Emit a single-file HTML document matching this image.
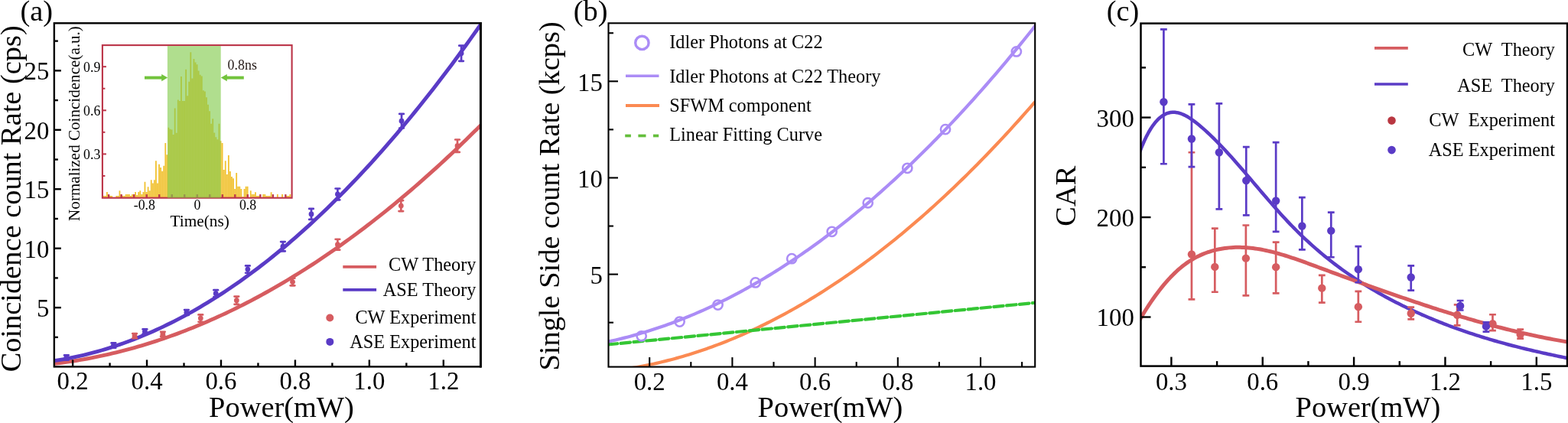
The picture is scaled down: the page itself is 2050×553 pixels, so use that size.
<!DOCTYPE html>
<html><head><meta charset="utf-8"><title>Figure</title>
<style>html,body{margin:0;padding:0;background:#fff;}svg{display:block;}
text{font-family:"Liberation Serif", "Times New Roman", serif;}</style></head>
<body><svg width="2050" height="553" viewBox="0 0 2050 553">
<rect width="2050" height="553" fill="#fff"/>
<defs>
<clipPath id="clipA"><rect x="70.85" y="30.3" width="557.65" height="449.1"/></clipPath>
</defs>
<g clip-path="url(#clipA)">
<path d="M66.02,475.94 L70.78,475.41 L75.55,474.84 L80.31,474.23 L85.08,473.59 L89.85,472.92 L94.61,472.2 L99.38,471.46 L104.14,470.67 L108.91,469.85 L113.67,468.99 L118.44,468.1 L123.2,467.17 L127.97,466.2 L132.74,465.2 L137.5,464.17 L142.27,463.09 L147.03,461.98 L151.8,460.84 L156.56,459.65 L161.33,458.43 L166.09,457.18 L170.86,455.89 L175.63,454.56 L180.39,453.2 L185.16,451.8 L189.92,450.37 L194.69,448.9 L199.45,447.39 L204.22,445.85 L208.98,444.27 L213.75,442.65 L218.52,441 L223.28,439.31 L228.05,437.59 L232.81,435.83 L237.58,434.03 L242.34,432.2 L247.11,430.33 L251.87,428.43 L256.64,426.49 L261.41,424.51 L266.17,422.5 L270.94,420.45 L275.7,418.36 L280.47,416.24 L285.23,414.09 L290,411.89 L294.76,409.66 L299.53,407.4 L304.29,405.1 L309.06,402.76 L313.83,400.39 L318.59,397.98 L323.36,395.53 L328.12,393.05 L332.89,390.53 L337.65,387.98 L342.42,385.39 L347.18,382.76 L351.95,380.1 L356.72,377.4 L361.48,374.66 L366.25,371.89 L371.01,369.09 L375.78,366.24 L380.54,363.36 L385.31,360.45 L390.07,357.5 L394.84,354.51 L399.61,351.49 L404.37,348.43 L409.14,345.33 L413.9,342.2 L418.67,339.03 L423.43,335.83 L428.2,332.59 L432.96,329.31 L437.73,326 L442.5,322.65 L447.26,319.26 L452.03,315.84 L456.79,312.39 L461.56,308.89 L466.32,305.36 L471.09,301.8 L475.85,298.2 L480.62,294.56 L485.39,290.89 L490.15,287.18 L494.92,283.43 L499.68,279.65 L504.45,275.83 L509.21,271.98 L513.98,268.09 L518.74,264.16 L523.51,260.2 L528.28,256.2 L533.04,252.16 L537.81,248.09 L542.57,243.99 L547.34,239.84 L552.1,235.66 L556.87,231.45 L561.63,227.2 L566.4,222.91 L571.17,218.59 L575.93,214.23 L580.7,209.83 L585.46,205.4 L590.23,200.93 L594.99,196.43 L599.76,191.89 L604.52,187.31 L609.29,182.7 L614.05,178.05 L618.82,173.37 L623.59,168.65 L628.35,163.89 L633.12,159.1" fill="none" stroke="#d65c60" stroke-width="4.9" stroke-linejoin="round" />
<path d="M66.02,472.36 L70.78,471.67 L75.55,470.93 L80.31,470.14 L85.08,469.3 L89.85,468.41 L94.61,467.46 L99.38,466.46 L104.14,465.41 L108.91,464.31 L113.67,463.15 L118.44,461.95 L123.2,460.69 L127.97,459.38 L132.74,458.01 L137.5,456.6 L142.27,455.13 L147.03,453.61 L151.8,452.04 L156.56,450.42 L161.33,448.74 L166.09,447.01 L170.86,445.24 L175.63,443.4 L180.39,441.52 L185.16,439.59 L189.92,437.6 L194.69,435.56 L199.45,433.47 L204.22,431.32 L208.98,429.13 L213.75,426.88 L218.52,424.58 L223.28,422.23 L228.05,419.83 L232.81,417.37 L237.58,414.86 L242.34,412.3 L247.11,409.69 L251.87,407.03 L256.64,404.31 L261.41,401.55 L266.17,398.73 L270.94,395.85 L275.7,392.93 L280.47,389.96 L285.23,386.93 L290,383.85 L294.76,380.72 L299.53,377.53 L304.29,374.3 L309.06,371.01 L313.83,367.67 L318.59,364.28 L323.36,360.83 L328.12,357.34 L332.89,353.79 L337.65,350.19 L342.42,346.54 L347.18,342.83 L351.95,339.07 L356.72,335.27 L361.48,331.41 L366.25,327.49 L371.01,323.53 L375.78,319.51 L380.54,315.45 L385.31,311.32 L390.07,307.15 L394.84,302.93 L399.61,298.65 L404.37,294.32 L409.14,289.94 L413.9,285.51 L418.67,281.03 L423.43,276.49 L428.2,271.9 L432.96,267.26 L437.73,262.57 L442.5,257.82 L447.26,253.03 L452.03,248.18 L456.79,243.28 L461.56,238.32 L466.32,233.32 L471.09,228.26 L475.85,223.15 L480.62,217.99 L485.39,212.78 L490.15,207.51 L494.92,202.2 L499.68,196.83 L504.45,191.41 L509.21,185.93 L513.98,180.41 L518.74,174.83 L523.51,169.2 L528.28,163.52 L533.04,157.79 L537.81,152 L542.57,146.16 L547.34,140.28 L552.1,134.33 L556.87,128.34 L561.63,122.3 L566.4,116.2 L571.17,110.05 L575.93,103.85 L580.7,97.59 L585.46,91.29 L590.23,84.93 L594.99,78.52 L599.76,72.06 L604.52,65.55 L609.29,58.98 L614.05,52.36 L618.82,45.69 L623.59,38.97 L628.35,32.2 L633.12,25.37" fill="none" stroke="#5a3bc6" stroke-width="4.9" stroke-linejoin="round" />
</g>
<line x1="176.04" y1="436.07" x2="176.04" y2="442.27" stroke="#d65c60" stroke-width="2.7" />
<line x1="173.24" y1="436.07" x2="178.84" y2="436.07" stroke="#d65c60" stroke-width="2.7" stroke-linecap="round"/>
<line x1="173.24" y1="442.27" x2="178.84" y2="442.27" stroke="#d65c60" stroke-width="2.7" stroke-linecap="round"/>
<circle cx="176.04" cy="439.17" r="3.4" fill="#d65c60"/>
<line x1="212.88" y1="433.75" x2="212.88" y2="439.64" stroke="#d65c60" stroke-width="2.7" />
<line x1="210.08" y1="433.75" x2="215.68" y2="433.75" stroke="#d65c60" stroke-width="2.7" stroke-linecap="round"/>
<line x1="210.08" y1="439.64" x2="215.68" y2="439.64" stroke="#d65c60" stroke-width="2.7" stroke-linecap="round"/>
<circle cx="212.88" cy="436.69" r="3.4" fill="#d65c60"/>
<line x1="262.32" y1="411.44" x2="262.32" y2="420.74" stroke="#d65c60" stroke-width="2.7" />
<line x1="259.52" y1="411.44" x2="265.12" y2="411.44" stroke="#d65c60" stroke-width="2.7" stroke-linecap="round"/>
<line x1="259.52" y1="420.74" x2="265.12" y2="420.74" stroke="#d65c60" stroke-width="2.7" stroke-linecap="round"/>
<circle cx="262.32" cy="416.09" r="3.4" fill="#d65c60"/>
<line x1="309.34" y1="387.59" x2="309.34" y2="397.81" stroke="#d65c60" stroke-width="2.7" />
<line x1="306.54" y1="387.59" x2="312.14" y2="387.59" stroke="#d65c60" stroke-width="2.7" stroke-linecap="round"/>
<line x1="306.54" y1="397.81" x2="312.14" y2="397.81" stroke="#d65c60" stroke-width="2.7" stroke-linecap="round"/>
<circle cx="309.34" cy="392.7" r="3.4" fill="#d65c60"/>
<line x1="382.53" y1="363.73" x2="382.53" y2="373.34" stroke="#d65c60" stroke-width="2.7" />
<line x1="379.73" y1="363.73" x2="385.33" y2="363.73" stroke="#d65c60" stroke-width="2.7" stroke-linecap="round"/>
<line x1="379.73" y1="373.34" x2="385.33" y2="373.34" stroke="#d65c60" stroke-width="2.7" stroke-linecap="round"/>
<circle cx="382.53" cy="368.54" r="3.4" fill="#d65c60"/>
<line x1="441.42" y1="312.77" x2="441.42" y2="326.71" stroke="#d65c60" stroke-width="2.7" />
<line x1="438.62" y1="312.77" x2="444.22" y2="312.77" stroke="#d65c60" stroke-width="2.7" stroke-linecap="round"/>
<line x1="438.62" y1="326.71" x2="444.22" y2="326.71" stroke="#d65c60" stroke-width="2.7" stroke-linecap="round"/>
<circle cx="441.42" cy="319.74" r="3.4" fill="#d65c60"/>
<line x1="524.3" y1="262.12" x2="524.3" y2="276.06" stroke="#d65c60" stroke-width="2.7" />
<line x1="521.5" y1="262.12" x2="527.1" y2="262.12" stroke="#d65c60" stroke-width="2.7" stroke-linecap="round"/>
<line x1="521.5" y1="276.06" x2="527.1" y2="276.06" stroke="#d65c60" stroke-width="2.7" stroke-linecap="round"/>
<circle cx="524.3" cy="269.09" r="3.4" fill="#d65c60"/>
<line x1="598.02" y1="182.5" x2="598.02" y2="198.92" stroke="#d65c60" stroke-width="2.7" />
<line x1="595.22" y1="182.5" x2="600.82" y2="182.5" stroke="#d65c60" stroke-width="2.7" stroke-linecap="round"/>
<line x1="595.22" y1="198.92" x2="600.82" y2="198.92" stroke="#d65c60" stroke-width="2.7" stroke-linecap="round"/>
<circle cx="598.02" cy="190.71" r="3.4" fill="#d65c60"/>
<line x1="86.86" y1="464.42" x2="86.86" y2="470.62" stroke="#5a3bc6" stroke-width="2.7" />
<line x1="84.06" y1="464.42" x2="89.66" y2="464.42" stroke="#5a3bc6" stroke-width="2.7" stroke-linecap="round"/>
<line x1="84.06" y1="470.62" x2="89.66" y2="470.62" stroke="#5a3bc6" stroke-width="2.7" stroke-linecap="round"/>
<circle cx="86.86" cy="467.52" r="3.4" fill="#5a3bc6"/>
<line x1="148.42" y1="448.47" x2="148.42" y2="454.66" stroke="#5a3bc6" stroke-width="2.7" />
<line x1="145.62" y1="448.47" x2="151.22" y2="448.47" stroke="#5a3bc6" stroke-width="2.7" stroke-linecap="round"/>
<line x1="145.62" y1="454.66" x2="151.22" y2="454.66" stroke="#5a3bc6" stroke-width="2.7" stroke-linecap="round"/>
<circle cx="148.42" cy="451.56" r="3.4" fill="#5a3bc6"/>
<line x1="189.42" y1="430.34" x2="189.42" y2="436.54" stroke="#5a3bc6" stroke-width="2.7" />
<line x1="186.62" y1="430.34" x2="192.22" y2="430.34" stroke="#5a3bc6" stroke-width="2.7" stroke-linecap="round"/>
<line x1="186.62" y1="436.54" x2="192.22" y2="436.54" stroke="#5a3bc6" stroke-width="2.7" stroke-linecap="round"/>
<circle cx="189.42" cy="433.44" r="3.4" fill="#5a3bc6"/>
<line x1="243.9" y1="405.09" x2="243.9" y2="411.91" stroke="#5a3bc6" stroke-width="2.7" />
<line x1="241.1" y1="405.09" x2="246.7" y2="405.09" stroke="#5a3bc6" stroke-width="2.7" stroke-linecap="round"/>
<line x1="241.1" y1="411.91" x2="246.7" y2="411.91" stroke="#5a3bc6" stroke-width="2.7" stroke-linecap="round"/>
<circle cx="243.9" cy="408.5" r="3.4" fill="#5a3bc6"/>
<line x1="282.19" y1="379.22" x2="282.19" y2="388.21" stroke="#5a3bc6" stroke-width="2.7" />
<line x1="279.39" y1="379.22" x2="284.99" y2="379.22" stroke="#5a3bc6" stroke-width="2.7" stroke-linecap="round"/>
<line x1="279.39" y1="388.21" x2="284.99" y2="388.21" stroke="#5a3bc6" stroke-width="2.7" stroke-linecap="round"/>
<circle cx="282.19" cy="383.72" r="3.4" fill="#5a3bc6"/>
<line x1="323.88" y1="347.47" x2="323.88" y2="356.76" stroke="#5a3bc6" stroke-width="2.7" />
<line x1="321.08" y1="347.47" x2="326.68" y2="347.47" stroke="#5a3bc6" stroke-width="2.7" stroke-linecap="round"/>
<line x1="321.08" y1="356.76" x2="326.68" y2="356.76" stroke="#5a3bc6" stroke-width="2.7" stroke-linecap="round"/>
<circle cx="323.88" cy="352.12" r="3.4" fill="#5a3bc6"/>
<line x1="369.92" y1="316.03" x2="369.92" y2="328.42" stroke="#5a3bc6" stroke-width="2.7" />
<line x1="367.12" y1="316.03" x2="372.72" y2="316.03" stroke="#5a3bc6" stroke-width="2.7" stroke-linecap="round"/>
<line x1="367.12" y1="328.42" x2="372.72" y2="328.42" stroke="#5a3bc6" stroke-width="2.7" stroke-linecap="round"/>
<circle cx="369.92" cy="322.22" r="3.4" fill="#5a3bc6"/>
<line x1="407" y1="272.96" x2="407" y2="286.9" stroke="#5a3bc6" stroke-width="2.7" />
<line x1="404.2" y1="272.96" x2="409.8" y2="272.96" stroke="#5a3bc6" stroke-width="2.7" stroke-linecap="round"/>
<line x1="404.2" y1="286.9" x2="409.8" y2="286.9" stroke="#5a3bc6" stroke-width="2.7" stroke-linecap="round"/>
<circle cx="407" cy="279.93" r="3.4" fill="#5a3bc6"/>
<line x1="441.42" y1="246.48" x2="441.42" y2="261.35" stroke="#5a3bc6" stroke-width="2.7" />
<line x1="438.62" y1="246.48" x2="444.22" y2="246.48" stroke="#5a3bc6" stroke-width="2.7" stroke-linecap="round"/>
<line x1="438.62" y1="261.35" x2="444.22" y2="261.35" stroke="#5a3bc6" stroke-width="2.7" stroke-linecap="round"/>
<circle cx="441.42" cy="253.91" r="3.4" fill="#5a3bc6"/>
<line x1="525.03" y1="148.89" x2="525.03" y2="167.48" stroke="#5a3bc6" stroke-width="2.7" />
<line x1="522.23" y1="148.89" x2="527.83" y2="148.89" stroke="#5a3bc6" stroke-width="2.7" stroke-linecap="round"/>
<line x1="522.23" y1="167.48" x2="527.83" y2="167.48" stroke="#5a3bc6" stroke-width="2.7" stroke-linecap="round"/>
<circle cx="525.03" cy="158.18" r="3.4" fill="#5a3bc6"/>
<line x1="603.07" y1="59.67" x2="603.07" y2="79.8" stroke="#5a3bc6" stroke-width="2.7" />
<line x1="600.27" y1="59.67" x2="605.87" y2="59.67" stroke="#5a3bc6" stroke-width="2.7" stroke-linecap="round"/>
<line x1="600.27" y1="79.8" x2="605.87" y2="79.8" stroke="#5a3bc6" stroke-width="2.7" stroke-linecap="round"/>
<circle cx="603.07" cy="69.73" r="3.4" fill="#5a3bc6"/>
<rect x="70.85" y="30.3" width="557.65" height="449.1" fill="none" stroke="#000" stroke-width="2.4" stroke-linejoin="miter"/>
<line x1="628.4" y1="29.1" x2="628.4" y2="480.6" stroke="#000" stroke-width="2.9" />
<line x1="70.85" y1="402.15" x2="79.85" y2="402.15" stroke="#000" stroke-width="2.4" />
<text x="64.4" y="413.95" font-size="32.8" text-anchor="end" fill="#000" >5</text>
<line x1="70.85" y1="324.7" x2="79.85" y2="324.7" stroke="#000" stroke-width="2.4" />
<text x="64.4" y="336.5" font-size="32.8" text-anchor="end" fill="#000" >10</text>
<line x1="70.85" y1="247.25" x2="79.85" y2="247.25" stroke="#000" stroke-width="2.4" />
<text x="64.4" y="259.05" font-size="32.8" text-anchor="end" fill="#000" >15</text>
<line x1="70.85" y1="169.8" x2="79.85" y2="169.8" stroke="#000" stroke-width="2.4" />
<text x="64.4" y="181.6" font-size="32.8" text-anchor="end" fill="#000" >20</text>
<line x1="70.85" y1="92.35" x2="79.85" y2="92.35" stroke="#000" stroke-width="2.4" />
<text x="64.4" y="104.15" font-size="32.8" text-anchor="end" fill="#000" >25</text>
<line x1="70.85" y1="440.88" x2="75.85" y2="440.88" stroke="#000" stroke-width="2.4" />
<line x1="70.85" y1="363.43" x2="75.85" y2="363.43" stroke="#000" stroke-width="2.4" />
<line x1="70.85" y1="285.98" x2="75.85" y2="285.98" stroke="#000" stroke-width="2.4" />
<line x1="70.85" y1="208.53" x2="75.85" y2="208.53" stroke="#000" stroke-width="2.4" />
<line x1="70.85" y1="131.08" x2="75.85" y2="131.08" stroke="#000" stroke-width="2.4" />
<line x1="70.85" y1="53.62" x2="75.85" y2="53.62" stroke="#000" stroke-width="2.4" />
<line x1="95.1" y1="479.4" x2="95.1" y2="470.4" stroke="#000" stroke-width="2.4" />
<text x="95.1" y="509.1" font-size="32.8" text-anchor="middle" fill="#000" >0.2</text>
<line x1="192.04" y1="479.4" x2="192.04" y2="470.4" stroke="#000" stroke-width="2.4" />
<text x="192.04" y="509.1" font-size="32.8" text-anchor="middle" fill="#000" >0.4</text>
<line x1="288.98" y1="479.4" x2="288.98" y2="470.4" stroke="#000" stroke-width="2.4" />
<text x="288.98" y="509.1" font-size="32.8" text-anchor="middle" fill="#000" >0.6</text>
<line x1="385.92" y1="479.4" x2="385.92" y2="470.4" stroke="#000" stroke-width="2.4" />
<text x="385.92" y="509.1" font-size="32.8" text-anchor="middle" fill="#000" >0.8</text>
<line x1="482.86" y1="479.4" x2="482.86" y2="470.4" stroke="#000" stroke-width="2.4" />
<text x="482.86" y="509.1" font-size="32.8" text-anchor="middle" fill="#000" >1.0</text>
<line x1="579.8" y1="479.4" x2="579.8" y2="470.4" stroke="#000" stroke-width="2.4" />
<text x="579.8" y="509.1" font-size="32.8" text-anchor="middle" fill="#000" >1.2</text>
<line x1="143.57" y1="479.4" x2="143.57" y2="474.4" stroke="#000" stroke-width="2.4" />
<line x1="240.51" y1="479.4" x2="240.51" y2="474.4" stroke="#000" stroke-width="2.4" />
<line x1="337.45" y1="479.4" x2="337.45" y2="474.4" stroke="#000" stroke-width="2.4" />
<line x1="434.39" y1="479.4" x2="434.39" y2="474.4" stroke="#000" stroke-width="2.4" />
<line x1="531.33" y1="479.4" x2="531.33" y2="474.4" stroke="#000" stroke-width="2.4" />
<text x="368" y="545" font-size="38.4" text-anchor="middle" fill="#000" >Power(mW)</text>
<text x="27" y="259.8" font-size="38.4" text-anchor="middle" fill="#000" transform="rotate(-90 27 259.8)">Coincidence count Rate (cps)</text>
<text x="47.8" y="27" font-size="38.4" text-anchor="middle" fill="#000" >(a)</text>
<line x1="448.3" y1="348.8" x2="492.1" y2="348.8" stroke="#d65c60" stroke-width="3.7" />
<line x1="448.3" y1="378.9" x2="492.1" y2="378.9" stroke="#5a3bc6" stroke-width="3.7" />
<circle cx="431.3" cy="415.5" r="5" fill="#d65c60"/>
<circle cx="431.3" cy="446.9" r="5" fill="#5a3bc6"/>
<text x="622.5" y="354.4" font-size="24.3" text-anchor="end" fill="#000" >CW Theory</text>
<text x="622.5" y="387.4" font-size="24.3" text-anchor="end" fill="#000" >ASE Theory</text>
<text x="622.5" y="423.3" font-size="24.3" text-anchor="end" fill="#000" >CW Experiment</text>
<text x="622.5" y="455.3" font-size="24.3" text-anchor="end" fill="#000" >ASE Experiment</text>
<path d="M134.9,258.7V256.03H136.71V258.7zM136.96,258.7V256.03H138.78V258.7zM139.03,258.7V251.08H140.84V258.7zM141.09,258.7V256.03H142.91V258.7zM143.16,258.7V256.03H144.97V258.7zM145.22,258.7V256.03H147.03V258.7zM151.41,258.7V256.03H153.23V258.7zM153.48,258.7V256.03H155.29V258.7zM155.54,258.7V249.17H157.35V258.7zM157.6,258.7V253.93H159.42V258.7zM159.67,258.7V256.03H161.48V258.7zM161.73,258.7V256.03H163.55V258.7zM163.8,258.7V253.93H165.61V258.7zM165.86,258.7V253.93H167.67V258.7zM167.92,258.7V253.93H169.74V258.7zM169.99,258.7V256.03H171.8V258.7zM172.05,258.7V253.93H173.87V258.7zM174.12,258.7V253.93H175.93V258.7zM176.18,258.7V251.08H177.99V258.7zM178.24,258.7V255.07H180.06V258.7zM180.31,258.7V251.08H182.12V258.7zM182.37,258.7V249.17H184.19V258.7zM184.44,258.7V253.93H186.25V258.7zM186.5,258.7V251.08H188.31V258.7zM188.56,258.7V237.75H190.38V258.7zM190.63,258.7V251.08H192.44V258.7zM192.69,258.7V244.22H194.51V258.7zM194.76,258.7V249.17H196.57V258.7zM196.82,258.7V235.28H198.63V258.7zM198.88,258.7V239.47H200.7V258.7zM200.95,258.7V235.28H202.76V258.7zM203.01,258.7V210.16H204.83V258.7zM205.08,258.7V239.47H206.89V258.7zM207.14,258.7V214.72H208.95V258.7zM209.2,258.7V219.1H211.02V258.7zM211.27,258.7V223.67H213.08V258.7zM213.33,258.7V216.82H215.15V258.7zM215.4,258.7V187.12H217.21V258.7zM217.46,258.7V202.35H219.27V258.7zM219.52,258.7V166.76H221.34V258.7zM221.59,258.7V168.85H223.4V258.7zM223.65,258.7V169.42H225.47V258.7zM225.72,258.7V176.09H227.53V258.7zM227.78,258.7V141.44H229.59V258.7zM229.84,258.7V173.8H231.66V258.7zM231.91,258.7V130.41H233.72V258.7zM233.97,258.7V132.12H235.79V258.7zM236.04,258.7V99.95H237.85V258.7zM238.1,258.7V132.12H239.91V258.7zM240.16,258.7V132.12H241.98V258.7zM242.23,258.7V90.82H244.04V258.7zM244.29,258.7V125.27H246.11V258.7zM246.36,258.7V106.8H248.17V258.7zM248.42,258.7V68.17H250.23V258.7zM250.48,258.7V102.43H252.3V258.7zM252.55,258.7V77.11H254.36V258.7zM254.61,258.7V81.49H256.43V258.7zM256.68,258.7V84.15H258.49V258.7zM258.74,258.7V92.53H260.55V258.7zM260.8,258.7V97.86H262.62V258.7zM262.87,258.7V99.38H264.68V258.7zM264.93,258.7V118.22H266.75V258.7zM267,258.7V119.56H268.81V258.7zM269.06,258.7V127.17H270.87V258.7zM271.12,258.7V136.69H272.94V258.7zM273.19,258.7V145.25H275V258.7zM275.25,258.7V161.81H277.07V258.7zM277.32,258.7V155.15H279.13V258.7zM279.38,258.7V173.42H281.19V258.7zM281.44,258.7V179.32H283.26V258.7zM283.51,258.7V182.37H285.32V258.7zM285.57,258.7V161.81H287.39V258.7zM287.64,258.7V184.27H289.45V258.7zM289.7,258.7V187.12H291.51V258.7zM291.76,258.7V221.96H293.58V258.7zM293.83,258.7V210.16H295.64V258.7zM295.89,258.7V228.05H297.71V258.7zM297.96,258.7V203.11H299.77V258.7zM300.02,258.7V224.05H301.83V258.7zM302.08,258.7V230.9H303.9V258.7zM304.15,258.7V233.19H305.96V258.7zM306.21,258.7V246.89H308.03V258.7zM308.28,258.7V225.95H310.09V258.7zM310.34,258.7V243.84H312.15V258.7zM312.4,258.7V243.84H314.22V258.7zM314.47,258.7V246.89H316.28V258.7zM316.53,258.7V257.36H318.35V258.7zM318.6,258.7V246.89H320.41V258.7zM320.66,258.7V243.84H322.47V258.7zM322.72,258.7V243.84H324.54V258.7zM326.85,258.7V249.17H328.67V258.7zM328.92,258.7V253.93H330.73V258.7zM330.98,258.7V253.93H332.79V258.7zM333.04,258.7V251.27H334.86V258.7zM335.11,258.7V256.03H336.92V258.7zM337.17,258.7V256.03H338.99V258.7zM343.36,258.7V253.93H345.18V258.7zM345.43,258.7V253.93H347.24V258.7zM347.49,258.7V256.03H349.31V258.7zM349.56,258.7V256.03H351.37V258.7zM351.62,258.7V256.03H353.43V258.7zM353.68,258.7V251.27H355.5V258.7zM361.94,258.7V253.93H363.75V258.7zM368.13,258.7V253.93H369.95V258.7zM374.32,258.7V256.03H376.14V258.7zM376.39,258.7V256.03H378.2V258.7zM378.45,258.7V253.93H380.27V258.7z" fill="#f1c232"/>
<line x1="133.9" y1="201.4" x2="138.9" y2="201.4" stroke="#bb3448" stroke-width="2" />
<text x="131.3" y="208" font-size="17.8" text-anchor="end" fill="#000" >0.3</text>
<line x1="133.9" y1="144.3" x2="138.9" y2="144.3" stroke="#bb3448" stroke-width="2" />
<text x="131.3" y="150.9" font-size="17.8" text-anchor="end" fill="#000" >0.6</text>
<line x1="133.9" y1="87.2" x2="138.9" y2="87.2" stroke="#bb3448" stroke-width="2" />
<text x="131.3" y="93.8" font-size="17.8" text-anchor="end" fill="#000" >0.9</text>
<line x1="133.9" y1="229.95" x2="137.4" y2="229.95" stroke="#bb3448" stroke-width="2" />
<line x1="133.9" y1="172.85" x2="137.4" y2="172.85" stroke="#bb3448" stroke-width="2" />
<line x1="133.9" y1="115.75" x2="137.4" y2="115.75" stroke="#bb3448" stroke-width="2" />
<line x1="142.16" y1="258.7" x2="142.16" y2="254.1" stroke="#bb3448" stroke-width="2.3" />
<line x1="158.67" y1="258.7" x2="158.67" y2="254.1" stroke="#bb3448" stroke-width="2.3" />
<line x1="175.18" y1="258.7" x2="175.18" y2="254.1" stroke="#bb3448" stroke-width="2.3" />
<line x1="191.7" y1="258.7" x2="191.7" y2="254.1" stroke="#bb3448" stroke-width="2.3" />
<line x1="208.21" y1="258.7" x2="208.21" y2="254.1" stroke="#bb3448" stroke-width="2.3" />
<line x1="224.72" y1="258.7" x2="224.72" y2="254.1" stroke="#bb3448" stroke-width="2.3" />
<line x1="241.24" y1="258.7" x2="241.24" y2="254.1" stroke="#bb3448" stroke-width="2.3" />
<line x1="257.75" y1="258.7" x2="257.75" y2="254.1" stroke="#bb3448" stroke-width="2.3" />
<line x1="274.26" y1="258.7" x2="274.26" y2="254.1" stroke="#bb3448" stroke-width="2.3" />
<line x1="290.78" y1="258.7" x2="290.78" y2="254.1" stroke="#bb3448" stroke-width="2.3" />
<line x1="307.29" y1="258.7" x2="307.29" y2="254.1" stroke="#bb3448" stroke-width="2.3" />
<line x1="323.8" y1="258.7" x2="323.8" y2="254.1" stroke="#bb3448" stroke-width="2.3" />
<line x1="340.32" y1="258.7" x2="340.32" y2="254.1" stroke="#bb3448" stroke-width="2.3" />
<line x1="356.83" y1="258.7" x2="356.83" y2="254.1" stroke="#bb3448" stroke-width="2.3" />
<line x1="373.34" y1="258.7" x2="373.34" y2="254.1" stroke="#bb3448" stroke-width="2.3" />
<text x="188.9" y="273.9" font-size="17.8" text-anchor="middle" fill="#000" >-0.8</text>
<text x="258.05" y="273.9" font-size="17.8" text-anchor="middle" fill="#000" >0</text>
<text x="324.1" y="273.9" font-size="17.8" text-anchor="middle" fill="#000" >0.8</text>
<rect x="133.9" y="59.1" width="247.7" height="199.6" fill="none" stroke="#bb3448" stroke-width="2.1"/>
<rect x="218.9" y="60.1" width="69.8" height="198.6" fill="rgb(130,203,76)" fill-opacity="0.63"/>
<line x1="189" y1="101.6" x2="212" y2="101.6" stroke="#72c33c" stroke-width="4" />
<path d="M211.2,97 L219.2,101.6 L211.2,106.2 Z" fill="#72c33c"/>
<line x1="296" y1="101.6" x2="318.8" y2="101.6" stroke="#72c33c" stroke-width="4" />
<path d="M296.8,97 L288.8,101.6 L296.8,106.2 Z" fill="#72c33c"/>
<text x="297.6" y="91" font-size="17.9" text-anchor="start" fill="#231815" >0.8ns</text>
<text x="261.2" y="296" font-size="21.3" text-anchor="middle" fill="#000" >Time(ns)</text>
<text x="104" y="161.5" font-size="21.1" text-anchor="middle" fill="#000" transform="rotate(-90 104 161.5)">Normalized Coincidence(a.u.)</text>
<defs><clipPath id="clipB"><rect x="795.5" y="30.3" width="557.7" height="449.3"/></clipPath></defs>
<g clip-path="url(#clipB)">
<path d="M789.69,486.07 L793.5,485.68 L797.31,485.26 L801.13,484.81 L804.94,484.34 L808.75,483.84 L812.56,483.31 L816.38,482.75 L820.19,482.17 L824,481.56 L827.81,480.92 L831.63,480.26 L835.44,479.57 L839.25,478.85 L843.06,478.11 L846.88,477.33 L850.69,476.53 L854.5,475.71 L858.31,474.85 L862.13,473.97 L865.94,473.06 L869.75,472.13 L873.56,471.16 L877.38,470.17 L881.19,469.16 L885,468.11 L888.81,467.04 L892.63,465.94 L896.44,464.81 L900.25,463.66 L904.06,462.48 L907.87,461.27 L911.69,460.04 L915.5,458.78 L919.31,457.49 L923.12,456.17 L926.94,454.83 L930.75,453.46 L934.56,452.06 L938.37,450.63 L942.19,449.18 L946,447.7 L949.81,446.19 L953.62,444.66 L957.44,443.1 L961.25,441.51 L965.06,439.9 L968.87,438.25 L972.69,436.58 L976.5,434.89 L980.31,433.16 L984.12,431.41 L987.94,429.63 L991.75,427.83 L995.56,425.99 L999.37,424.13 L1003.19,422.25 L1007,420.33 L1010.81,418.39 L1014.62,416.42 L1018.43,414.42 L1022.25,412.4 L1026.06,410.35 L1029.87,408.27 L1033.68,406.17 L1037.5,404.04 L1041.31,401.88 L1045.12,399.69 L1048.93,397.48 L1052.75,395.24 L1056.56,392.97 L1060.37,390.67 L1064.18,388.35 L1068,386 L1071.81,383.63 L1075.62,381.22 L1079.43,378.79 L1083.25,376.33 L1087.06,373.85 L1090.87,371.33 L1094.68,368.79 L1098.5,366.23 L1102.31,363.63 L1106.12,361.01 L1109.93,358.36 L1113.75,355.69 L1117.56,352.99 L1121.37,350.26 L1125.18,347.5 L1129,344.71 L1132.81,341.9 L1136.62,339.06 L1140.43,336.2 L1144.24,333.3 L1148.06,330.38 L1151.87,327.44 L1155.68,324.46 L1159.49,321.46 L1163.31,318.43 L1167.12,315.37 L1170.93,312.29 L1174.74,309.18 L1178.56,306.04 L1182.37,302.88 L1186.18,299.68 L1189.99,296.47 L1193.81,293.22 L1197.62,289.94 L1201.43,286.64 L1205.24,283.32 L1209.06,279.96 L1212.87,276.58 L1216.68,273.17 L1220.49,269.73 L1224.31,266.27 L1228.12,262.78 L1231.93,259.26 L1235.74,255.71 L1239.56,252.14 L1243.37,248.54 L1247.18,244.91 L1250.99,241.26 L1254.8,237.58 L1258.62,233.87 L1262.43,230.13 L1266.24,226.37 L1270.05,222.58 L1273.87,218.76 L1277.68,214.92 L1281.49,211.04 L1285.3,207.14 L1289.12,203.22 L1292.93,199.26 L1296.74,195.28 L1300.55,191.28 L1304.37,187.24 L1308.18,183.18 L1311.99,179.09 L1315.8,174.97 L1319.62,170.83 L1323.43,166.66 L1327.24,162.46 L1331.05,158.24 L1334.87,153.98 L1338.68,149.7 L1342.49,145.4 L1346.3,141.06 L1350.12,136.7 L1353.93,132.31 L1357.74,127.9" fill="none" stroke="#fb8a52" stroke-width="4.2" stroke-linejoin="round" />
<path d="M794.72,450.45 L1357.74,395.38" fill="none" stroke="#34c634" stroke-width="4.2" stroke-linejoin="round" stroke-dasharray="12.5 4.4" stroke-linecap="round"/>
<path d="M789.69,447.75 L793.5,446.96 L797.31,446.14 L801.13,445.3 L804.94,444.43 L808.75,443.53 L812.56,442.61 L816.38,441.65 L820.19,440.67 L824,439.67 L827.81,438.63 L831.63,437.57 L835.44,436.48 L839.25,435.36 L843.06,434.22 L846.88,433.04 L850.69,431.85 L854.5,430.62 L858.31,429.36 L862.13,428.08 L865.94,426.77 L869.75,425.44 L873.56,424.07 L877.38,422.68 L881.19,421.27 L885,419.82 L888.81,418.35 L892.63,416.85 L896.44,415.32 L900.25,413.76 L904.06,412.18 L907.87,410.57 L911.69,408.93 L915.5,407.27 L919.31,405.58 L923.12,403.86 L926.94,402.11 L930.75,400.33 L934.56,398.53 L938.37,396.7 L942.19,394.85 L946,392.96 L949.81,391.05 L953.62,389.11 L957.44,387.15 L961.25,385.15 L965.06,383.13 L968.87,381.08 L972.69,379.01 L976.5,376.91 L980.31,374.77 L984.12,372.62 L987.94,370.43 L991.75,368.22 L995.56,365.98 L999.37,363.71 L1003.19,361.42 L1007,359.09 L1010.81,356.74 L1014.62,354.37 L1018.43,351.96 L1022.25,349.53 L1026.06,347.07 L1029.87,344.59 L1033.68,342.07 L1037.5,339.53 L1041.31,336.96 L1045.12,334.37 L1048.93,331.74 L1052.75,329.09 L1056.56,326.41 L1060.37,323.71 L1064.18,320.97 L1068,318.21 L1071.81,315.43 L1075.62,312.61 L1079.43,309.77 L1083.25,306.9 L1087.06,304 L1090.87,301.08 L1094.68,298.12 L1098.5,295.15 L1102.31,292.14 L1106.12,289.1 L1109.93,286.04 L1113.75,282.95 L1117.56,279.84 L1121.37,276.69 L1125.18,273.52 L1129,270.32 L1132.81,267.1 L1136.62,263.84 L1140.43,260.56 L1144.24,257.25 L1148.06,253.92 L1151.87,250.56 L1155.68,247.17 L1159.49,243.75 L1163.31,240.3 L1167.12,236.83 L1170.93,233.33 L1174.74,229.8 L1178.56,226.25 L1182.37,222.67 L1186.18,219.06 L1189.99,215.42 L1193.81,211.76 L1197.62,208.06 L1201.43,204.34 L1205.24,200.6 L1209.06,196.82 L1212.87,193.02 L1216.68,189.19 L1220.49,185.34 L1224.31,181.46 L1228.12,177.54 L1231.93,173.61 L1235.74,169.64 L1239.56,165.65 L1243.37,161.63 L1247.18,157.58 L1250.99,153.51 L1254.8,149.4 L1258.62,145.27 L1262.43,141.12 L1266.24,136.93 L1270.05,132.72 L1273.87,128.48 L1277.68,124.21 L1281.49,119.92 L1285.3,115.6 L1289.12,111.25 L1292.93,106.87 L1296.74,102.47 L1300.55,98.04 L1304.37,93.58 L1308.18,89.09 L1311.99,84.58 L1315.8,80.04 L1319.62,75.47 L1323.43,70.87 L1327.24,66.25 L1331.05,61.6 L1334.87,56.92 L1338.68,52.22 L1342.49,47.49 L1346.3,42.73 L1350.12,37.94 L1353.93,33.13 L1357.74,28.28" fill="none" stroke="#ab8cf6" stroke-width="4.2" stroke-linejoin="round" />
<circle cx="838.7" cy="439.29" r="6.1" fill="none" stroke="#ab8cf6" stroke-width="2.6"/>
<circle cx="888.58" cy="420.59" r="6.1" fill="none" stroke="#ab8cf6" stroke-width="2.6"/>
<circle cx="938.57" cy="398.59" r="6.1" fill="none" stroke="#ab8cf6" stroke-width="2.6"/>
<circle cx="987.7" cy="369.4" r="6.1" fill="none" stroke="#ab8cf6" stroke-width="2.6"/>
<circle cx="1035.14" cy="338.16" r="6.1" fill="none" stroke="#ab8cf6" stroke-width="2.6"/>
<circle cx="1087.67" cy="302.84" r="6.1" fill="none" stroke="#ab8cf6" stroke-width="2.6"/>
<circle cx="1134.69" cy="265.25" r="6.1" fill="none" stroke="#ab8cf6" stroke-width="2.6"/>
<circle cx="1186.3" cy="219.84" r="6.1" fill="none" stroke="#ab8cf6" stroke-width="2.6"/>
<circle cx="1236.02" cy="169.12" r="6.1" fill="none" stroke="#ab8cf6" stroke-width="2.6"/>
<circle cx="1328.85" cy="67.45" r="6.1" fill="none" stroke="#ab8cf6" stroke-width="2.6"/>
</g>
<rect x="795.5" y="30.3" width="557.7" height="449.3" fill="none" stroke="#000" stroke-width="2.1" stroke-linejoin="miter"/>
<line x1="795.5" y1="358.6" x2="808" y2="358.6" stroke="#000" stroke-width="2.1" />
<text x="787.8" y="370.8" font-size="32.8" text-anchor="end" fill="#000" >5</text>
<line x1="795.5" y1="232.45" x2="808" y2="232.45" stroke="#000" stroke-width="2.1" />
<text x="787.8" y="244.65" font-size="32.8" text-anchor="end" fill="#000" >10</text>
<line x1="795.5" y1="106.3" x2="808" y2="106.3" stroke="#000" stroke-width="2.1" />
<text x="787.8" y="118.5" font-size="32.8" text-anchor="end" fill="#000" >15</text>
<line x1="795.5" y1="421.68" x2="802" y2="421.68" stroke="#000" stroke-width="2.1" />
<line x1="795.5" y1="295.53" x2="802" y2="295.53" stroke="#000" stroke-width="2.1" />
<line x1="795.5" y1="169.38" x2="802" y2="169.38" stroke="#000" stroke-width="2.1" />
<line x1="795.5" y1="43.23" x2="802" y2="43.23" stroke="#000" stroke-width="2.1" />
<line x1="849.2" y1="479.6" x2="849.2" y2="467.1" stroke="#000" stroke-width="2.1" />
<text x="849.2" y="509.5" font-size="32.8" text-anchor="middle" fill="#000" >0.2</text>
<line x1="957.4" y1="479.6" x2="957.4" y2="467.1" stroke="#000" stroke-width="2.1" />
<text x="957.4" y="509.5" font-size="32.8" text-anchor="middle" fill="#000" >0.4</text>
<line x1="1065.6" y1="479.6" x2="1065.6" y2="467.1" stroke="#000" stroke-width="2.1" />
<text x="1065.6" y="509.5" font-size="32.8" text-anchor="middle" fill="#000" >0.6</text>
<line x1="1173.8" y1="479.6" x2="1173.8" y2="467.1" stroke="#000" stroke-width="2.1" />
<text x="1173.8" y="509.5" font-size="32.8" text-anchor="middle" fill="#000" >0.8</text>
<line x1="1282" y1="479.6" x2="1282" y2="467.1" stroke="#000" stroke-width="2.1" />
<text x="1282" y="509.5" font-size="32.8" text-anchor="middle" fill="#000" >1.0</text>
<line x1="903.3" y1="479.6" x2="903.3" y2="473.1" stroke="#000" stroke-width="2.1" />
<line x1="1011.5" y1="479.6" x2="1011.5" y2="473.1" stroke="#000" stroke-width="2.1" />
<line x1="1119.7" y1="479.6" x2="1119.7" y2="473.1" stroke="#000" stroke-width="2.1" />
<line x1="1227.9" y1="479.6" x2="1227.9" y2="473.1" stroke="#000" stroke-width="2.1" />
<line x1="1336.1" y1="479.6" x2="1336.1" y2="473.1" stroke="#000" stroke-width="2.1" />
<text x="1085.5" y="544.5" font-size="38.4" text-anchor="middle" fill="#000" >Power(mW)</text>
<text x="731.5" y="256.4" font-size="38.4" text-anchor="middle" fill="#000" transform="rotate(-90 731.5 256.4)">Single Side count Rate (kcps)</text>
<text x="772.2" y="27" font-size="38.4" text-anchor="middle" fill="#000" >(b)</text>
<circle cx="839.4" cy="55.9" r="8.7" fill="none" stroke="#ab8cf6" stroke-width="3.4"/>
<line x1="818" y1="99.2" x2="861.5" y2="99.2" stroke="#ab8cf6" stroke-width="3.6" />
<line x1="818" y1="138" x2="862" y2="138" stroke="#fb8a52" stroke-width="3.8" />
<line x1="817.2" y1="177.5" x2="824.9" y2="177.5" stroke="#64be3c" stroke-width="3.7" />
<line x1="834.4" y1="177.5" x2="844.5" y2="177.5" stroke="#64be3c" stroke-width="3.7" />
<line x1="854" y1="177.5" x2="861.2" y2="177.5" stroke="#64be3c" stroke-width="3.7" />
<text x="875.2" y="62.8" font-size="24.3" text-anchor="start" fill="#000" >Idler Photons at C22</text>
<text x="875.2" y="107.5" font-size="24.3" text-anchor="start" fill="#000" >Idler Photons at C22 Theory</text>
<text x="875.2" y="146" font-size="24.3" text-anchor="start" fill="#000" >SFWM component</text>
<text x="875.2" y="184.2" font-size="24.3" text-anchor="start" fill="#000" >Linear Fitting Curve</text>
<defs><clipPath id="clipC"><rect x="1491.5" y="30.6" width="557.5" height="448"/></clipPath></defs>
<g clip-path="url(#clipC)">
<path d="M1487.64,205.4 L1490.48,197.62 L1493.32,190.49 L1496.15,183.98 L1498.99,178.08 L1501.83,172.76 L1504.67,168 L1507.51,163.79 L1510.35,160.1 L1513.19,156.9 L1516.03,154.19 L1518.87,151.93 L1521.7,150.11 L1524.54,148.7 L1527.38,147.69 L1530.22,147.05 L1533.06,146.76 L1535.9,146.81 L1538.74,147.16 L1541.58,147.8 L1544.41,148.71 L1547.25,149.87 L1550.09,151.25 L1552.93,152.83 L1555.77,154.6 L1558.61,156.53 L1561.45,158.61 L1564.29,160.8 L1567.13,163.09 L1569.96,165.46 L1572.8,167.91 L1575.64,170.42 L1578.48,173.01 L1581.32,175.66 L1584.16,178.37 L1587,181.14 L1589.84,183.97 L1592.67,186.86 L1595.51,189.79 L1598.35,192.77 L1601.19,195.8 L1604.03,198.86 L1606.87,201.97 L1609.71,205.11 L1612.55,208.29 L1615.38,211.49 L1618.22,214.72 L1621.06,217.98 L1623.9,221.25 L1626.74,224.54 L1629.58,227.85 L1632.42,231.17 L1635.26,234.5 L1638.1,237.84 L1640.93,241.18 L1643.77,244.51 L1646.61,247.85 L1649.45,251.18 L1652.29,254.5 L1655.13,257.81 L1657.97,261.1 L1660.81,264.38 L1663.64,267.64 L1666.48,270.87 L1669.32,274.07 L1672.16,277.25 L1675,280.39 L1677.84,283.5 L1680.68,286.57 L1683.52,289.59 L1686.36,292.58 L1689.19,295.52 L1692.03,298.41 L1694.87,301.27 L1697.71,304.08 L1700.55,306.85 L1703.39,309.57 L1706.23,312.26 L1709.07,314.91 L1711.9,317.52 L1714.74,320.08 L1717.58,322.61 L1720.42,325.1 L1723.26,327.56 L1726.1,329.97 L1728.94,332.35 L1731.78,334.7 L1734.61,337.01 L1737.45,339.28 L1740.29,341.52 L1743.13,343.73 L1745.97,345.9 L1748.81,348.04 L1751.65,350.15 L1754.49,352.22 L1757.33,354.27 L1760.16,356.28 L1763,358.27 L1765.84,360.22 L1768.68,362.15 L1771.52,364.04 L1774.36,365.91 L1777.2,367.75 L1780.04,369.57 L1782.87,371.36 L1785.71,373.12 L1788.55,374.86 L1791.39,376.57 L1794.23,378.26 L1797.07,379.93 L1799.91,381.57 L1802.75,383.19 L1805.59,384.79 L1808.42,386.36 L1811.26,387.92 L1814.1,389.45 L1816.94,390.97 L1819.78,392.47 L1822.62,393.94 L1825.46,395.4 L1828.3,396.84 L1831.13,398.27 L1833.97,399.67 L1836.81,401.06 L1839.65,402.43 L1842.49,403.79 L1845.33,405.13 L1848.17,406.45 L1851.01,407.75 L1853.84,409.04 L1856.68,410.31 L1859.52,411.57 L1862.36,412.81 L1865.2,414.04 L1868.04,415.25 L1870.88,416.44 L1873.72,417.62 L1876.56,418.79 L1879.39,419.94 L1882.23,421.07 L1885.07,422.2 L1887.91,423.3 L1890.75,424.4 L1893.59,425.48 L1896.43,426.54 L1899.27,427.59 L1902.1,428.63 L1904.94,429.66 L1907.78,430.67 L1910.62,431.67 L1913.46,432.65 L1916.3,433.63 L1919.14,434.59 L1921.98,435.54 L1924.82,436.48 L1927.65,437.4 L1930.49,438.31 L1933.33,439.22 L1936.17,440.11 L1939.01,440.99 L1941.85,441.85 L1944.69,442.71 L1947.53,443.56 L1950.36,444.39 L1953.2,445.22 L1956.04,446.03 L1958.88,446.84 L1961.72,447.63 L1964.56,448.42 L1967.4,449.19 L1970.24,449.96 L1973.07,450.72 L1975.91,451.46 L1978.75,452.2 L1981.59,452.93 L1984.43,453.65 L1987.27,454.37 L1990.11,455.07 L1992.95,455.77 L1995.79,456.46 L1998.62,457.14 L2001.46,457.81 L2004.3,458.48 L2007.14,459.13 L2009.98,459.79 L2012.82,460.43 L2015.66,461.07 L2018.5,461.7 L2021.33,462.32 L2024.17,462.94 L2027.01,463.55 L2029.85,464.16 L2032.69,464.76 L2035.53,465.35 L2038.37,465.94 L2041.21,466.53 L2044.05,467.1 L2046.88,467.68 L2049.72,468.25 L2052.56,468.81" fill="none" stroke="#5a3bc6" stroke-width="4.5" stroke-linejoin="round" />
<path d="M1487.64,422.37 L1490.48,417.46 L1493.32,412.69 L1496.15,408.05 L1498.99,403.54 L1501.83,399.16 L1504.67,394.91 L1507.51,390.79 L1510.35,386.8 L1513.19,382.95 L1516.03,379.22 L1518.87,375.63 L1521.7,372.18 L1524.54,368.85 L1527.38,365.66 L1530.22,362.6 L1533.06,359.68 L1535.9,356.89 L1538.74,354.23 L1541.58,351.71 L1544.41,349.31 L1547.25,347.05 L1550.09,344.91 L1552.93,342.91 L1555.77,341.03 L1558.61,339.27 L1561.45,337.63 L1564.29,336.1 L1567.13,334.68 L1569.96,333.36 L1572.8,332.14 L1575.64,331.01 L1578.48,329.98 L1581.32,329.03 L1584.16,328.16 L1587,327.37 L1589.84,326.66 L1592.67,326.02 L1595.51,325.45 L1598.35,324.95 L1601.19,324.52 L1604.03,324.16 L1606.87,323.87 L1609.71,323.64 L1612.55,323.47 L1615.38,323.37 L1618.22,323.32 L1621.06,323.34 L1623.9,323.41 L1626.74,323.53 L1629.58,323.71 L1632.42,323.94 L1635.26,324.22 L1638.1,324.55 L1640.93,324.93 L1643.77,325.35 L1646.61,325.81 L1649.45,326.32 L1652.29,326.87 L1655.13,327.46 L1657.97,328.09 L1660.81,328.75 L1663.64,329.44 L1666.48,330.17 L1669.32,330.93 L1672.16,331.73 L1675,332.54 L1677.84,333.39 L1680.68,334.26 L1683.52,335.15 L1686.36,336.07 L1689.19,337.01 L1692.03,337.96 L1694.87,338.93 L1697.71,339.92 L1700.55,340.92 L1703.39,341.93 L1706.23,342.96 L1709.07,343.99 L1711.9,345.03 L1714.74,346.08 L1717.58,347.13 L1720.42,348.18 L1723.26,349.24 L1726.1,350.3 L1728.94,351.35 L1731.78,352.4 L1734.61,353.46 L1737.45,354.51 L1740.29,355.56 L1743.13,356.61 L1745.97,357.66 L1748.81,358.71 L1751.65,359.76 L1754.49,360.81 L1757.33,361.85 L1760.16,362.89 L1763,363.94 L1765.84,364.98 L1768.68,366.02 L1771.52,367.05 L1774.36,368.09 L1777.2,369.12 L1780.04,370.15 L1782.87,371.18 L1785.71,372.21 L1788.55,373.23 L1791.39,374.25 L1794.23,375.27 L1797.07,376.29 L1799.91,377.31 L1802.75,378.32 L1805.59,379.33 L1808.42,380.33 L1811.26,381.34 L1814.1,382.34 L1816.94,383.34 L1819.78,384.33 L1822.62,385.32 L1825.46,386.31 L1828.3,387.3 L1831.13,388.28 L1833.97,389.26 L1836.81,390.23 L1839.65,391.2 L1842.49,392.17 L1845.33,393.13 L1848.17,394.09 L1851.01,395.04 L1853.84,395.99 L1856.68,396.94 L1859.52,397.88 L1862.36,398.82 L1865.2,399.75 L1868.04,400.68 L1870.88,401.61 L1873.72,402.53 L1876.56,403.44 L1879.39,404.35 L1882.23,405.26 L1885.07,406.16 L1887.91,407.05 L1890.75,407.95 L1893.59,408.83 L1896.43,409.71 L1899.27,410.58 L1902.1,411.45 L1904.94,412.32 L1907.78,413.17 L1910.62,414.03 L1913.46,414.87 L1916.3,415.71 L1919.14,416.55 L1921.98,417.38 L1924.82,418.2 L1927.65,419.01 L1930.49,419.82 L1933.33,420.63 L1936.17,421.42 L1939.01,422.21 L1941.85,423 L1944.69,423.78 L1947.53,424.55 L1950.36,425.31 L1953.2,426.07 L1956.04,426.82 L1958.88,427.56 L1961.72,428.29 L1964.56,429.02 L1967.4,429.74 L1970.24,430.46 L1973.07,431.16 L1975.91,431.86 L1978.75,432.55 L1981.59,433.24 L1984.43,433.91 L1987.27,434.58 L1990.11,435.24 L1992.95,435.89 L1995.79,436.53 L1998.62,437.17 L2001.46,437.79 L2004.3,438.41 L2007.14,439.02 L2009.98,439.62 L2012.82,440.22 L2015.66,440.8 L2018.5,441.38 L2021.33,441.94 L2024.17,442.5 L2027.01,443.05 L2029.85,443.59 L2032.69,444.12 L2035.53,444.64 L2038.37,445.15 L2041.21,445.66 L2044.05,446.15 L2046.88,446.63 L2049.72,447.11 L2052.56,447.57" fill="none" stroke="#d65c60" stroke-width="5" stroke-linejoin="round" />
<line x1="1557.94" y1="199.26" x2="1557.94" y2="391.41" stroke="#d65c60" stroke-width="2.7" />
<line x1="1553.54" y1="199.26" x2="1562.34" y2="199.26" stroke="#d65c60" stroke-width="2.7" />
<line x1="1553.54" y1="391.41" x2="1562.34" y2="391.41" stroke="#d65c60" stroke-width="2.7" />
<circle cx="1557.94" cy="332.45" r="5.2" fill="#d65c60"/>
<line x1="1588.29" y1="298.53" x2="1588.29" y2="381.76" stroke="#d65c60" stroke-width="2.7" />
<line x1="1583.89" y1="298.53" x2="1592.69" y2="298.53" stroke="#d65c60" stroke-width="2.7" />
<line x1="1583.89" y1="381.76" x2="1592.69" y2="381.76" stroke="#d65c60" stroke-width="2.7" />
<circle cx="1588.29" cy="348.88" r="5.2" fill="#d65c60"/>
<line x1="1628.87" y1="294.49" x2="1628.87" y2="386.32" stroke="#d65c60" stroke-width="2.7" />
<line x1="1624.47" y1="294.49" x2="1633.27" y2="294.49" stroke="#d65c60" stroke-width="2.7" />
<line x1="1624.47" y1="386.32" x2="1633.27" y2="386.32" stroke="#d65c60" stroke-width="2.7" />
<circle cx="1628.87" cy="337.66" r="5.2" fill="#d65c60"/>
<line x1="1668.14" y1="316.66" x2="1668.14" y2="383.32" stroke="#d65c60" stroke-width="2.7" />
<line x1="1663.74" y1="316.66" x2="1672.54" y2="316.66" stroke="#d65c60" stroke-width="2.7" />
<line x1="1663.74" y1="383.32" x2="1672.54" y2="383.32" stroke="#d65c60" stroke-width="2.7" />
<circle cx="1668.14" cy="349.14" r="5.2" fill="#d65c60"/>
<line x1="1728.29" y1="359.97" x2="1728.29" y2="395.72" stroke="#d65c60" stroke-width="2.7" />
<line x1="1723.89" y1="359.97" x2="1732.69" y2="359.97" stroke="#d65c60" stroke-width="2.7" />
<line x1="1723.89" y1="395.72" x2="1732.69" y2="395.72" stroke="#d65c60" stroke-width="2.7" />
<circle cx="1728.29" cy="376.67" r="5.2" fill="#d65c60"/>
<line x1="1775.83" y1="380.84" x2="1775.83" y2="420.76" stroke="#d65c60" stroke-width="2.7" />
<line x1="1771.43" y1="380.84" x2="1780.23" y2="380.84" stroke="#d65c60" stroke-width="2.7" />
<line x1="1771.43" y1="420.76" x2="1780.23" y2="420.76" stroke="#d65c60" stroke-width="2.7" />
<circle cx="1775.83" cy="401.19" r="5.2" fill="#d65c60"/>
<line x1="1844.73" y1="401.72" x2="1844.73" y2="417.37" stroke="#d65c60" stroke-width="2.7" />
<line x1="1840.33" y1="401.72" x2="1849.13" y2="401.72" stroke="#d65c60" stroke-width="2.7" />
<line x1="1840.33" y1="417.37" x2="1849.13" y2="417.37" stroke="#d65c60" stroke-width="2.7" />
<circle cx="1844.73" cy="409.8" r="5.2" fill="#d65c60"/>
<line x1="1905.16" y1="398.32" x2="1905.16" y2="425.33" stroke="#d65c60" stroke-width="2.7" />
<line x1="1900.76" y1="398.32" x2="1909.56" y2="398.32" stroke="#d65c60" stroke-width="2.7" />
<line x1="1900.76" y1="425.33" x2="1909.56" y2="425.33" stroke="#d65c60" stroke-width="2.7" />
<circle cx="1905.16" cy="411.76" r="5.2" fill="#d65c60"/>
<line x1="1951.47" y1="411.24" x2="1951.47" y2="432.11" stroke="#d65c60" stroke-width="2.7" />
<line x1="1947.07" y1="411.24" x2="1955.87" y2="411.24" stroke="#d65c60" stroke-width="2.7" />
<line x1="1947.07" y1="432.11" x2="1955.87" y2="432.11" stroke="#d65c60" stroke-width="2.7" />
<circle cx="1951.47" cy="423.24" r="5.2" fill="#d65c60"/>
<line x1="1987.68" y1="430.68" x2="1987.68" y2="442.55" stroke="#d65c60" stroke-width="2.7" />
<line x1="1983.28" y1="430.68" x2="1992.08" y2="430.68" stroke="#d65c60" stroke-width="2.7" />
<line x1="1983.28" y1="442.55" x2="1992.08" y2="442.55" stroke="#d65c60" stroke-width="2.7" />
<circle cx="1987.68" cy="437.33" r="5.2" fill="#d65c60"/>
<line x1="1521.41" y1="38.41" x2="1521.41" y2="214.26" stroke="#5a3bc6" stroke-width="2.7" />
<line x1="1517.01" y1="38.41" x2="1525.81" y2="38.41" stroke="#5a3bc6" stroke-width="2.7" />
<line x1="1517.01" y1="214.26" x2="1525.81" y2="214.26" stroke="#5a3bc6" stroke-width="2.7" />
<circle cx="1521.41" cy="133.25" r="5.2" fill="#5a3bc6"/>
<line x1="1557.94" y1="136.38" x2="1557.94" y2="218.17" stroke="#5a3bc6" stroke-width="2.7" />
<line x1="1553.54" y1="136.38" x2="1562.34" y2="136.38" stroke="#5a3bc6" stroke-width="2.7" />
<line x1="1553.54" y1="218.17" x2="1562.34" y2="218.17" stroke="#5a3bc6" stroke-width="2.7" />
<circle cx="1557.94" cy="181.52" r="5.2" fill="#5a3bc6"/>
<line x1="1593.86" y1="135.34" x2="1593.86" y2="273.35" stroke="#5a3bc6" stroke-width="2.7" />
<line x1="1589.46" y1="135.34" x2="1598.26" y2="135.34" stroke="#5a3bc6" stroke-width="2.7" />
<line x1="1589.46" y1="273.35" x2="1598.26" y2="273.35" stroke="#5a3bc6" stroke-width="2.7" />
<circle cx="1593.86" cy="199.26" r="5.2" fill="#5a3bc6"/>
<line x1="1629.27" y1="192.21" x2="1629.27" y2="281.44" stroke="#5a3bc6" stroke-width="2.7" />
<line x1="1624.87" y1="192.21" x2="1633.67" y2="192.21" stroke="#5a3bc6" stroke-width="2.7" />
<line x1="1624.87" y1="281.44" x2="1633.67" y2="281.44" stroke="#5a3bc6" stroke-width="2.7" />
<circle cx="1629.27" cy="236.04" r="5.2" fill="#5a3bc6"/>
<line x1="1668.14" y1="186.08" x2="1668.14" y2="302.83" stroke="#5a3bc6" stroke-width="2.7" />
<line x1="1663.74" y1="186.08" x2="1672.54" y2="186.08" stroke="#5a3bc6" stroke-width="2.7" />
<line x1="1663.74" y1="302.83" x2="1672.54" y2="302.83" stroke="#5a3bc6" stroke-width="2.7" />
<circle cx="1668.14" cy="262.53" r="5.2" fill="#5a3bc6"/>
<line x1="1702.35" y1="258.22" x2="1702.35" y2="326.32" stroke="#5a3bc6" stroke-width="2.7" />
<line x1="1697.95" y1="258.22" x2="1706.75" y2="258.22" stroke="#5a3bc6" stroke-width="2.7" />
<line x1="1697.95" y1="326.32" x2="1706.75" y2="326.32" stroke="#5a3bc6" stroke-width="2.7" />
<circle cx="1702.35" cy="295.53" r="5.2" fill="#5a3bc6"/>
<line x1="1740.26" y1="277.66" x2="1740.26" y2="336.23" stroke="#5a3bc6" stroke-width="2.7" />
<line x1="1735.86" y1="277.66" x2="1744.66" y2="277.66" stroke="#5a3bc6" stroke-width="2.7" />
<line x1="1735.86" y1="336.23" x2="1744.66" y2="336.23" stroke="#5a3bc6" stroke-width="2.7" />
<circle cx="1740.26" cy="301.66" r="5.2" fill="#5a3bc6"/>
<line x1="1775.83" y1="322.14" x2="1775.83" y2="369.23" stroke="#5a3bc6" stroke-width="2.7" />
<line x1="1771.43" y1="322.14" x2="1780.23" y2="322.14" stroke="#5a3bc6" stroke-width="2.7" />
<line x1="1771.43" y1="369.23" x2="1780.23" y2="369.23" stroke="#5a3bc6" stroke-width="2.7" />
<circle cx="1775.83" cy="352.14" r="5.2" fill="#5a3bc6"/>
<line x1="1844.73" y1="347.45" x2="1844.73" y2="379.54" stroke="#5a3bc6" stroke-width="2.7" />
<line x1="1840.33" y1="347.45" x2="1849.13" y2="347.45" stroke="#5a3bc6" stroke-width="2.7" />
<line x1="1840.33" y1="379.54" x2="1849.13" y2="379.54" stroke="#5a3bc6" stroke-width="2.7" />
<circle cx="1844.73" cy="362.45" r="5.2" fill="#5a3bc6"/>
<line x1="1909.14" y1="392.98" x2="1909.14" y2="405.5" stroke="#5a3bc6" stroke-width="2.7" />
<line x1="1904.74" y1="392.98" x2="1913.54" y2="392.98" stroke="#5a3bc6" stroke-width="2.7" />
<line x1="1904.74" y1="405.5" x2="1913.54" y2="405.5" stroke="#5a3bc6" stroke-width="2.7" />
<circle cx="1909.14" cy="399.89" r="5.2" fill="#5a3bc6"/>
<line x1="1942.96" y1="421.28" x2="1942.96" y2="433.68" stroke="#5a3bc6" stroke-width="2.7" />
<line x1="1938.56" y1="421.28" x2="1947.36" y2="421.28" stroke="#5a3bc6" stroke-width="2.7" />
<line x1="1938.56" y1="433.68" x2="1947.36" y2="433.68" stroke="#5a3bc6" stroke-width="2.7" />
<circle cx="1942.96" cy="426.63" r="5.2" fill="#5a3bc6"/>
</g>
<rect x="1491.5" y="30.6" width="557.5" height="448" fill="none" stroke="#000" stroke-width="2.5" stroke-linejoin="miter"/>
<line x1="1491.5" y1="414.5" x2="1504.5" y2="414.5" stroke="#000" stroke-width="2.4" />
<text x="1482.8" y="426.4" font-size="32.8" text-anchor="end" fill="#000" >100</text>
<line x1="1491.5" y1="284.05" x2="1504.5" y2="284.05" stroke="#000" stroke-width="2.4" />
<text x="1482.8" y="295.95" font-size="32.8" text-anchor="end" fill="#000" >200</text>
<line x1="1491.5" y1="153.6" x2="1504.5" y2="153.6" stroke="#000" stroke-width="2.4" />
<text x="1482.8" y="165.5" font-size="32.8" text-anchor="end" fill="#000" >300</text>
<line x1="1491.5" y1="349.27" x2="1498" y2="349.27" stroke="#000" stroke-width="2.4" />
<line x1="1491.5" y1="218.82" x2="1498" y2="218.82" stroke="#000" stroke-width="2.4" />
<line x1="1491.5" y1="88.38" x2="1498" y2="88.38" stroke="#000" stroke-width="2.4" />
<line x1="1531.4" y1="478.6" x2="1531.4" y2="466.6" stroke="#000" stroke-width="2.4" />
<text x="1531.4" y="509.5" font-size="32.8" text-anchor="middle" fill="#000" >0.3</text>
<line x1="1650.75" y1="478.6" x2="1650.75" y2="466.6" stroke="#000" stroke-width="2.4" />
<text x="1650.75" y="509.5" font-size="32.8" text-anchor="middle" fill="#000" >0.6</text>
<line x1="1770.1" y1="478.6" x2="1770.1" y2="466.6" stroke="#000" stroke-width="2.4" />
<text x="1770.1" y="509.5" font-size="32.8" text-anchor="middle" fill="#000" >0.9</text>
<line x1="1889.45" y1="478.6" x2="1889.45" y2="466.6" stroke="#000" stroke-width="2.4" />
<text x="1889.45" y="509.5" font-size="32.8" text-anchor="middle" fill="#000" >1.2</text>
<line x1="2008.8" y1="478.6" x2="2008.8" y2="466.6" stroke="#000" stroke-width="2.4" />
<text x="2008.8" y="509.5" font-size="32.8" text-anchor="middle" fill="#000" >1.5</text>
<line x1="1591.08" y1="478.6" x2="1591.08" y2="472.1" stroke="#000" stroke-width="2.4" />
<line x1="1710.43" y1="478.6" x2="1710.43" y2="472.1" stroke="#000" stroke-width="2.4" />
<line x1="1829.78" y1="478.6" x2="1829.78" y2="472.1" stroke="#000" stroke-width="2.4" />
<line x1="1949.12" y1="478.6" x2="1949.12" y2="472.1" stroke="#000" stroke-width="2.4" />
<text x="1788.5" y="544.5" font-size="38.4" text-anchor="middle" fill="#000" >Power(mW)</text>
<text x="1406.5" y="256.2" font-size="38.4" text-anchor="middle" fill="#000" transform="rotate(-90 1406.5 256.2)">CAR</text>
<text x="1468" y="27" font-size="38.4" text-anchor="middle" fill="#000" >(c)</text>
<line x1="1797" y1="62.8" x2="1840.8" y2="62.8" stroke="#d65c60" stroke-width="3.7" />
<line x1="1797" y1="110" x2="1840.8" y2="110" stroke="#5a3bc6" stroke-width="3.7" />
<circle cx="1819.5" cy="157.6" r="5.3" fill="#b93741"/>
<circle cx="1819.5" cy="196.1" r="5.3" fill="#5a3bc6"/>
<text x="2033" y="72.5" font-size="24.3" text-anchor="end" fill="#000" >CW&#160; Theory</text>
<text x="2033" y="119.7" font-size="24.3" text-anchor="end" fill="#000" >ASE&#160; Theory</text>
<text x="2033" y="165.2" font-size="24.3" text-anchor="end" fill="#000" >CW&#160; Experiment</text>
<text x="2033" y="204.3" font-size="24.3" text-anchor="end" fill="#000" >ASE Experiment</text>
</svg></body></html>
